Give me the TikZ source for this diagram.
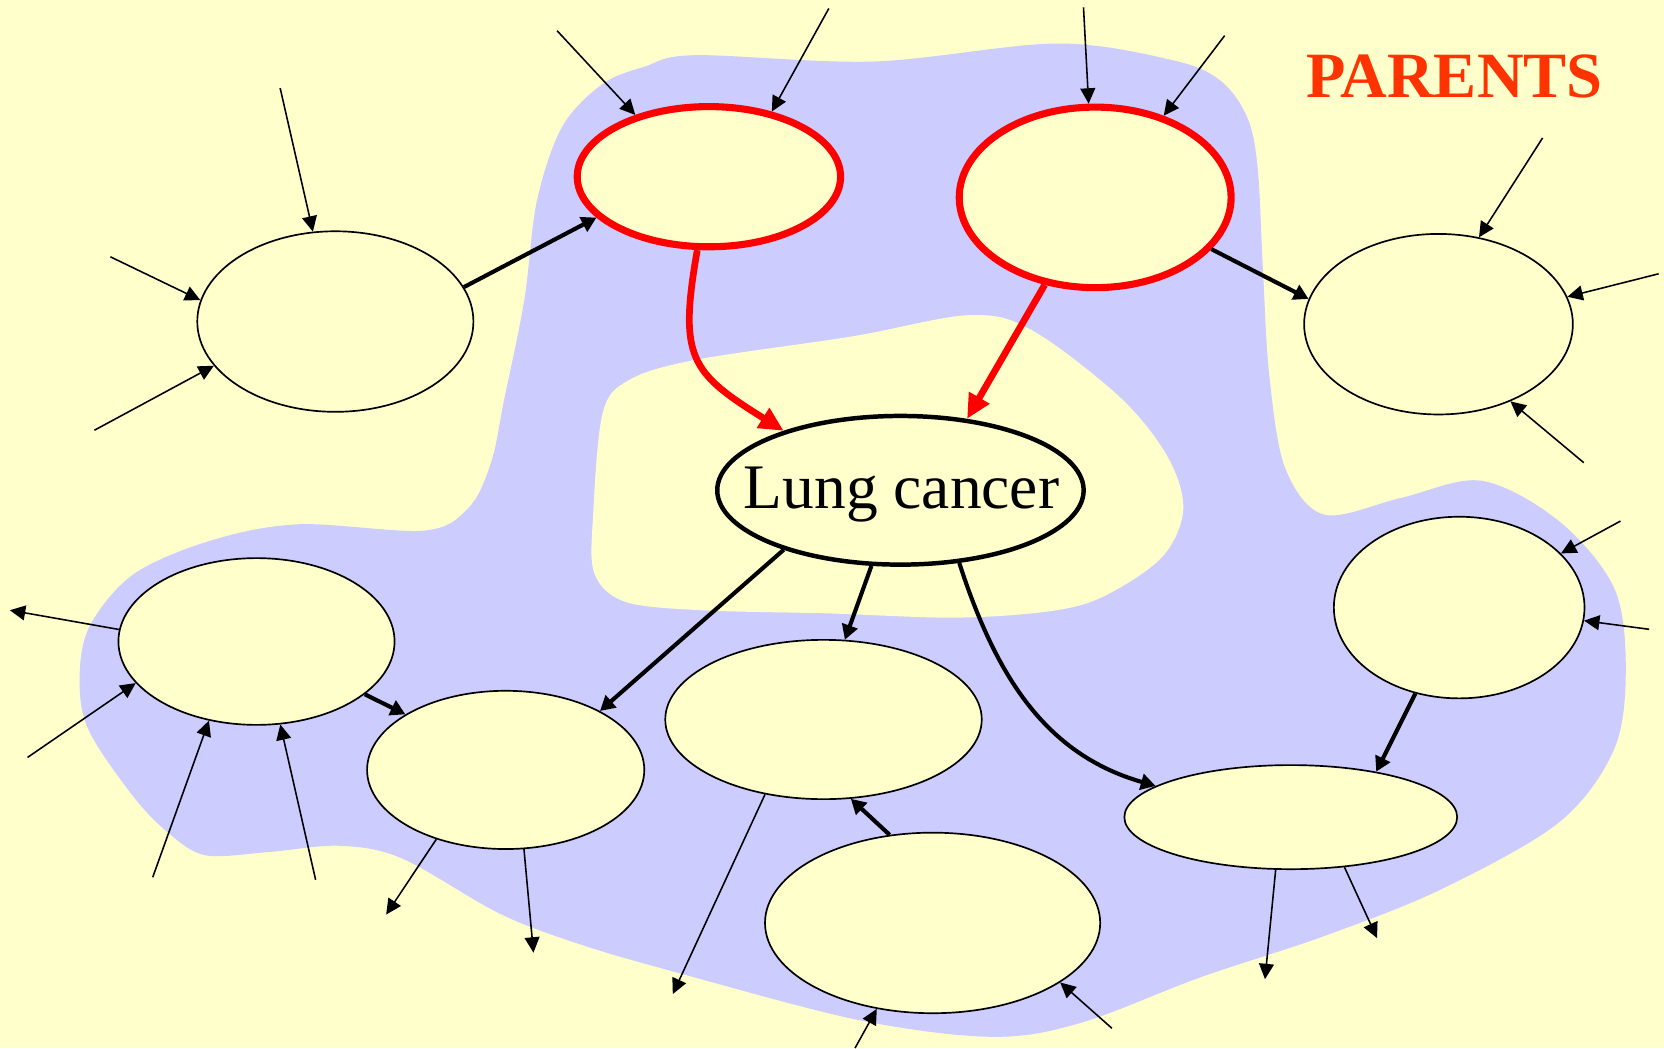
\documentclass[tikz,border=0pt]{standalone}
\usepackage{fontspec}
\setmainfont{Liberation Serif}
\usetikzlibrary{shapes.geometric,arrows.meta}
\definecolor{bgyellow}{HTML}{FFFFCC}
\definecolor{blobblue}{HTML}{CCCCFF}
\definecolor{parentred}{HTML}{FF3300}
\begin{document}
\begin{tikzpicture}[x=0.01cm,y=-0.01cm,
  ellsize/.style 2 args={minimum width=#1*0.02cm, minimum height=#2*0.02cm},
  plainnode/.style={ellipse, draw=black, line width=0.45pt, fill=bgyellow, inner sep=0pt},
  parentnode/.style={ellipse, draw=red, line width=1.9pt, fill=bgyellow, inner sep=0pt},
  focusnode/.style={ellipse, draw=black, line width=1.2pt, fill=bgyellow, inner sep=0pt},
  thinarrow/.style={line width=0.42pt, -{Triangle[length=0.145cm,width=0.14cm]}},
  thickarrow/.style={line width=1.1pt, -{Triangle[length=0.14cm,width=0.15cm]}},
  redarrow/.style={draw=red, line width=1.8pt, -{Triangle[length=0.23cm,width=0.21cm]}},
  lbl/.style={inner sep=0pt, font=\fontsize{17}{20}\selectfont}
]
% background and frame
\fill[bgyellow] (0,0) rectangle (1568,988);
\useasboundingbox (0,0) rectangle (1568,988);

% blue region
\fill[blobblue] plot[smooth cycle, tension=0.55] coordinates {
  (568,79) (607,63) (655,52) (823,58) (996,41) (1106,57) (1150,76) (1175,110)
  (1185,157) (1190,252) (1196,353) (1211,441) (1248,485) (1321,469) (1396,453)
  (1469,491) (1521,554) (1532,630) (1521,706) (1469,775) (1358,838) (1248,882)
  (1131,921) (1018,964) (934,977) (808,961) (640,917) (547,890) (471,861)
  (379,809) (320,797) (252,803) (194,806) (160,786) (126,751) (84,689) (75,642)
  (84,591) (126,541) (200,509) (282,494) (400,500) (442,478) (463,435) (475,377)
  (494,283) (506,189) (530,119)};

% inner yellow region
\fill[bgyellow] plot[smooth cycle, tension=0.55] coordinates {
  (568,389) (593,358) (656,339) (803,317) (913,297) (972,311) (1055,374)
  (1100,430) (1115,480) (1095,525) (1040,562) (989,576) (900,582) (780,578)
  (660,575) (589,567) (560,540) (559,484)};

% nodes
\node[plainnode, ellsize={130}{85}] (E1) at (316,303) {};
\node[parentnode, ellsize={124}{66}] (E2) at (668,166.5) {};
\node[parentnode, ellsize={128}{85}] (E3) at (1032,186) {};
\node[plainnode, ellsize={126.5}{85}] (E4) at (1355.5,305.5) {};
\node[focusnode, ellsize={172.5}{70}] (LC) at (848.5,462) {};
\node[lbl, anchor=base] (lctext) at (849.5,479) {Lung cancer};
\node[plainnode, ellsize={118}{85.5}] (E5) at (1375,572.5) {};
\node[plainnode, ellsize={130}{78.5}] (E6) at (241.7,604.5) {};
\node[plainnode, ellsize={130.5}{74.5}] (E7) at (476.5,725.5) {};
\node[plainnode, ellsize={149}{75}] (E8) at (776,678) {};
\node[plainnode, ellsize={157.8}{85}] (E9) at (878.8,869.7) {};
\node[plainnode, ellsize={156.7}{49}] (E10) at (1216.3,770) {};

\node[lbl, anchor=base west, font=\bfseries\fontsize{17.3}{20}\selectfont, text=parentred] (parents) at (1230,92) {PARENTS};

% free ends
\coordinate (a1) at (264,83);
\coordinate (a2) at (104,242);
\coordinate (a3) at (89,405.4);
\coordinate (b1) at (525,29);
\coordinate (b2) at (781,8);
\coordinate (c1) at (1021,7);
\coordinate (c2) at (1154,33.6);
\coordinate (d1) at (1453.6,130);
\coordinate (d2) at (1563,258);
\coordinate (d3) at (1492.4,436);
\coordinate (e1) at (1527,491);
\coordinate (e2) at (1554,593);
\coordinate (f0) at (9.3,575);
\coordinate (f1) at (26,713.7);
\coordinate (f2) at (143.9,826.7);
\coordinate (f3) at (297.4,829);
\coordinate (g1) at (363.9,861.8);
\coordinate (g2) at (502.7,897.7);
\coordinate (h1) at (634,936.7);
\coordinate (i1) at (805.7,987.6);
\coordinate (i2) at (1047.8,969);
\coordinate (j1) at (1192,922.7);
\coordinate (j2) at (1297.6,884);

% thin arrows
\draw[thinarrow] (a1) -- (E1.104.6);
\draw[thinarrow] (a2) -- (E1.171.7);
\draw[thinarrow] (a3) -- (E1.200.3);
\draw[thinarrow] (b1) -- (E2.140.3);
\draw[thinarrow] (b2) -- (E2.46.2);
\draw[thinarrow] (c1) -- (E3.94);
\draw[thinarrow] (c2) -- (E3.50.2);
\draw[thinarrow] (d1) -- (E4.65.2);
\draw[thinarrow] (d2) -- (E4.12.1);
\draw[thinarrow] (d3) -- (E4.-47.9);
\draw[thinarrow] (e1) -- (E5.28.1);
\draw[thinarrow] (e2) -- (E5.-6.5);
\draw[thinarrow] (E6.175) -- (f0);
\draw[thinarrow] (f1) -- (E6.199.5);
\draw[thinarrow] (f2) -- (E6.239.3);
\draw[thinarrow] (f3) -- (E6.-74.1);
\draw[thinarrow] (E7.225.7) -- (g1);
\draw[thinarrow] (E7.-77.1) -- (g2);
\draw[thinarrow] (E8.232.1) -- (h1);
\draw[thinarrow] (i1) -- (E9.237.7);
\draw[thinarrow] (i2) -- (E9.-25.2);
\draw[thinarrow] (E10.254) -- (j1);
\draw[thinarrow] (E10.-43.5) -- (j2);

% thick arrows
\draw[thickarrow] (E1.15.6) -- (E2.200.4);
\draw[thickarrow] (E3.-24.2) -- (E4.169.1);
\draw[thickarrow] (LC.207.3) -- (E7.32.8);
\draw[thickarrow] (LC.249.5) -- (E8.75.8);
\draw[thickarrow] (LC.-51.5) to[out=-72, in=164] (E10.167.2);
\draw[thickarrow] (E5.243.9) -- (E10.28.7);
\draw[thickarrow] (E6.-26.7) -- (E7.151.6);
\draw[thickarrow] (E9.116.8) -- (E8.-71.3);

% red arrows
\draw[redarrow] (E2.261.8) to[out=-100, in=148, looseness=1.4] (LC.153.5);
\draw[redarrow] (E3.240) -- (LC.47.6);
\end{tikzpicture}
\end{document}
